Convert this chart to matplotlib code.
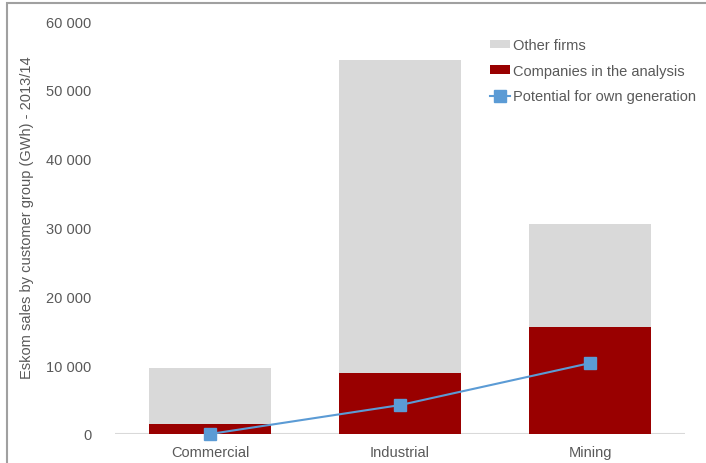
import matplotlib
matplotlib.use('Agg')
import matplotlib.pyplot as plt
from matplotlib.patches import Rectangle
from matplotlib.ticker import FuncFormatter

# Dữ liệu
categories = ['Commercial', 'Industrial', 'Mining']
other_firms = [8200, 45500, 15000]
companies = [1400, 8900, 15550]
potential = [0, 4200, 10300]
yticks = [0, 10000, 20000, 30000, 40000, 50000, 60000]

plt.rcParams['font.family'] = ['Liberation Sans', 'DejaVu Sans']

fig = plt.figure(figsize=(7.06, 4.64), dpi=100)
ax = fig.add_axes([115 / 706, 29 / 464, 570 / 706, 413 / 464])

x = list(range(len(categories)))
b1 = ax.bar(x, companies, width=0.64, color='#990000', zorder=2)
b2 = ax.bar(x, other_firms, width=0.64, bottom=companies, color='#d9d9d9', zorder=2)
ln, = ax.plot(x, potential, color='#5b9bd5', lw=1.5, marker='s', markersize=9,
              zorder=3, clip_on=False)

ax.set_xlim(-0.5, 2.5)
ax.set_ylim(0, 60000)
ax.set_xticks(x)
ax.set_xticklabels(categories)
ax.set_yticks(yticks)
ax.yaxis.set_major_formatter(FuncFormatter(lambda v, p: f'{int(v):,}'.replace(',', ' ')))
ax.tick_params(length=0, labelsize=10.5, colors='#595959', pad=8)
ax.tick_params(axis='y', pad=17)
for s in ax.spines.values():
    s.set_visible(False)
ax.axhline(0, color='#d9d9d9', lw=1.5, zorder=1)
fig.text(27 / 706, 1 - 218 / 464, 'Eskom sales by customer group (GWh) - 2013/14',
         rotation=90, ha='center', va='center', fontsize=10.5, color='#595959')

ax.legend([b2, b1, ln], ['Other firms', 'Companies in the analysis', 'Potential for own generation'],
          loc='upper left', bbox_to_anchor=(490 / 706, 1 - 39 / 464), bbox_transform=fig.transFigure,
          frameon=False, fontsize=10.5, labelcolor='#595959', handlelength=1.4,
          handleheight=0.5, handletextpad=0.15, labelspacing=0.8, borderpad=0, borderaxespad=0)

# Khung viền xám
fig.patches.append(Rectangle((7 / 706, -0.1), 1.1, 1 - 4 / 464 + 0.1, transform=fig.transFigure,
                             fill=False, edgecolor='#a0a0a0', lw=1.5))

fig.savefig('out.png', dpi=100)
